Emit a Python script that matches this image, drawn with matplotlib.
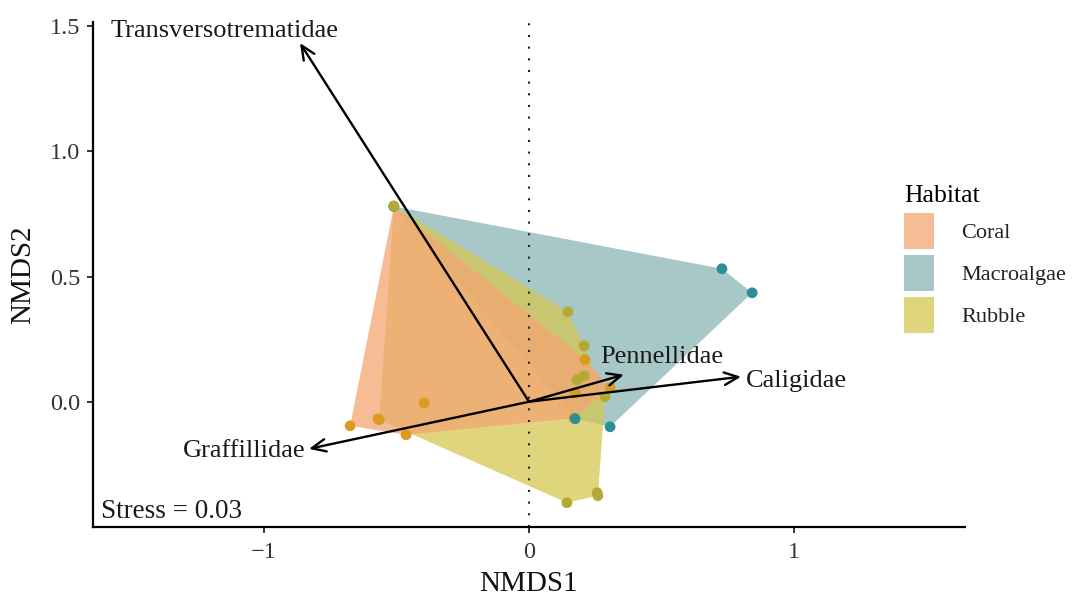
import numpy as np
import matplotlib
matplotlib.use("Agg")
import matplotlib.pyplot as plt
from matplotlib.patches import Patch

plt.rcParams['font.family'] = ['Liberation Serif', 'DejaVu Serif']

# site scores, in row order (drawing order matters for overlapping points)
site_x = [-0.51, -0.675, -0.396, -0.464, 0.211, 0.306, 0.174, 0.17,
          -0.51, 0.728, 0.842, 0.174, 0.306,
          -0.51, -0.565, 0.147, 0.208, 0.208, 0.181, 0.287, 0.257, 0.26, 0.143,
          -0.57]
site_y = [0.78, -0.096, -0.004, -0.132, 0.168, 0.056, 0.036, -0.065,
          0.78, 0.531, 0.435, -0.068, -0.100,
          0.782, -0.072, 0.359, 0.223, 0.104, 0.088, 0.02, -0.363, -0.375, -0.403,
          -0.068]
site_hab = ['Coral'] * 8 + ['Macroalgae'] * 5 + ['Rubble'] * 10 + ['Coral']

habitats = ['Coral', 'Macroalgae', 'Rubble']
point_cols = {'Coral': '#DE9A1E', 'Macroalgae': '#2C8E96', 'Rubble': '#B5A935'}
fill_cols = {'Coral': '#F3A673', 'Macroalgae': '#8BB5B5', 'Rubble': '#D3C852'}
fill_alpha = 0.75

# species vectors (envfit arrows)
species = ['Transversotrematidae', 'Pennellidae', 'Caligidae', 'Graffillidae']
arrow_x = [-0.864, 0.358, 0.80, -0.83]
arrow_y = [1.432, 0.108, 0.10, -0.188]
label_x = [-1.147, 0.50, 1.008, -1.074]
label_y = [1.480, 0.18, 0.084, -0.195]

stress = 0.03


def hull(pts):
    # monotone chain convex hull
    pts = sorted(set(pts))
    if len(pts) < 3:
        return pts
    def cross(o, a, b):
        return (a[0]-o[0])*(b[1]-o[1]) - (a[1]-o[1])*(b[0]-o[0])
    lower, upper = [], []
    for p in pts:
        while len(lower) >= 2 and cross(lower[-2], lower[-1], p) <= 0:
            lower.pop()
        lower.append(p)
    for p in reversed(pts):
        while len(upper) >= 2 and cross(upper[-2], upper[-1], p) <= 0:
            upper.pop()
        upper.append(p)
    return lower[:-1] + upper[:-1]


fig = plt.figure(figsize=(10.74, 5.95), dpi=100)
ax = fig.add_axes([0.0866, 0.1143, 0.8119, 0.8487])

# hull polygons: macroalgae, rubble, then coral on top
for hab in ['Macroalgae', 'Rubble', 'Coral']:
    pts = [(x, y) for x, y, h in zip(site_x, site_y, site_hab) if h == hab]
    hp = np.array(hull(pts))
    ax.fill(hp[:, 0], hp[:, 1], color=fill_cols[hab], alpha=fill_alpha, lw=0, zorder=1)

ax.axvline(0, color='#222222', lw=1.5, linestyle=(0, (1, 4.6)), zorder=2)

ax.scatter(site_x, site_y, c=[point_cols[h] for h in site_hab], s=60,
           linewidths=0, zorder=3)

for sp, ax_, ay_, lx, ly in zip(species, arrow_x, arrow_y, label_x, label_y):
    ax.annotate('', xy=(ax_, ay_), xytext=(0, 0),
                arrowprops=dict(arrowstyle='->,head_length=1.0,head_width=0.45',
                                lw=1.7, color='black', shrinkA=0, shrinkB=0,
                                mutation_scale=10),
                zorder=4)
    ax.text(lx, ly, sp, ha='center', va='center', fontsize=19, color='#1a1a1a',
            zorder=5)

ax.text(-1.615, -0.439, 'Stress = %.2f' % stress, ha='left', va='center',
        fontsize=19.5, color='#1a1a1a')

ax.set_xlim(-1.645, 1.645)
ax.set_ylim(-0.5, 1.516)
ax.set_xticks([-1, 0, 1])
ax.set_yticks([0.0, 0.5, 1.0, 1.5])
ax.set_yticklabels(['0.0', '0.5', '1.0', '1.5'])
ax.tick_params(labelsize=17.5, width=1.4, length=4, color='#333333',
               labelcolor='#333333')
ax.tick_params(axis='x', pad=7)
ax.tick_params(axis='y', pad=5)

for s in ['top', 'right']:
    ax.spines[s].set_visible(False)
for s in ['left', 'bottom']:
    ax.spines[s].set_linewidth(1.6)
    ax.spines[s].set_color('black')

ax.set_xlabel('NMDS1', fontsize=21, color='#111111')
ax.set_ylabel('NMDS2', fontsize=21, color='#111111')
ax.xaxis.label.set_va('center')
ax.yaxis.label.set_va('center')
ax.xaxis.set_label_coords(0.5, -0.113)
ax.yaxis.set_label_coords(-0.080, 0.5)

handles = [Patch(facecolor=fill_cols[h], alpha=fill_alpha, edgecolor='none') for h in habitats]
leg = fig.legend(handles, habitats, loc='upper left',
                 bbox_to_anchor=(904 / 1074, 1 - 185 / 595), frameon=False,
                 fontsize=16, title='Habitat', title_fontsize=18.5,
                 handlelength=1.35, handleheight=2.1, labelspacing=0.28,
                 handletextpad=1.22, borderpad=0, borderaxespad=0,
                 alignment='left')
for t in leg.get_texts():
    t.set_color('#222222')

fig.savefig('out.png', dpi=100)
